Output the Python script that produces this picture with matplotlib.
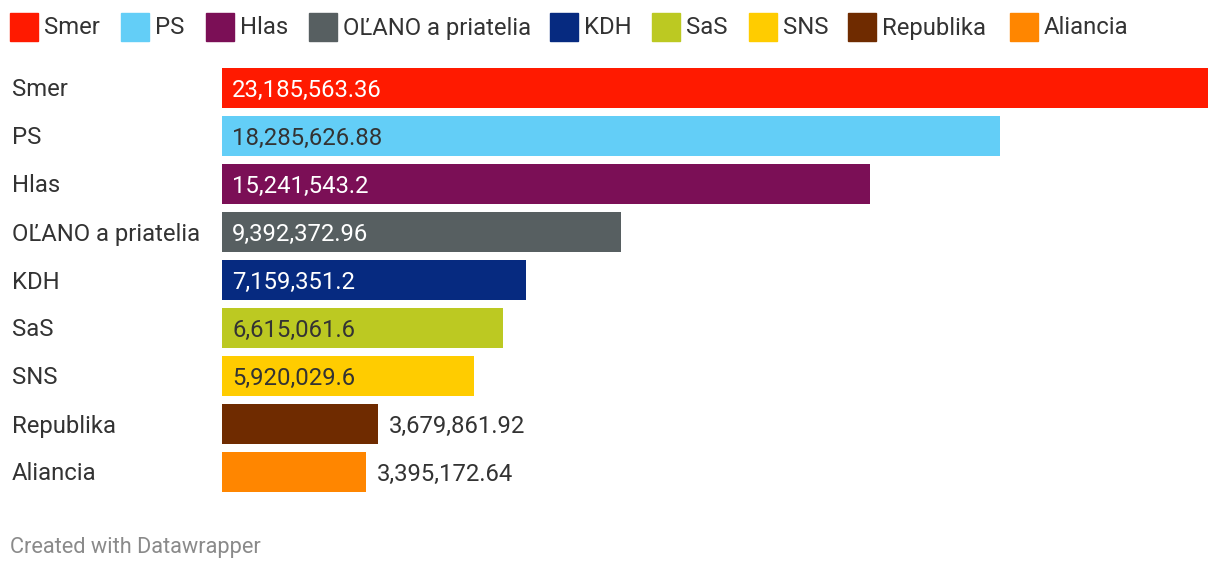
import matplotlib
matplotlib.use("Agg")
import matplotlib.pyplot as plt
from matplotlib.patches import Rectangle

plt.rcParams['font.family'] = ['Roboto', 'DejaVu Sans']

parties = ["Smer", "PS", "Hlas", "OĽANO a priatelia", "KDH", "SaS", "SNS", "Republika", "Aliancia"]
values = [23185563.36, 18285626.88, 15241543.2, 9392372.96, 7159351.2, 6615061.6, 5920029.6, 3679861.92, 3395172.64]
labels = ["23,185,563.36", "18,285,626.88", "15,241,543.2", "9,392,372.96", "7,159,351.2",
          "6,615,061.6", "5,920,029.6", "3,679,861.92", "3,395,172.64"]
colors = ["#ff1a00", "#63cef7", "#7b0f56", "#575f61", "#062a80", "#bcc922", "#ffcc00", "#6f2b00", "#ff8600"]
label_colors = ["white", "#333333", "white", "white", "white", "#333333", "#333333", "#333333", "#333333"]
inside = [True, True, True, True, True, True, True, False, False]

W, H = 1220, 570
fig = plt.figure(figsize=(W / 100, H / 100), dpi=100)

ax_left, ax_right = 222, 1208
ax_top, ax_bottom = 64, 496
ax = fig.add_axes([ax_left / W, 1 - ax_bottom / H, (ax_right - ax_left) / W, (ax_bottom - ax_top) / H])
ypos = list(range(len(parties)))
ax.barh(ypos, values, height=40 / 48, color=colors)
ax.set_xlim(0, max(values))
ax.set_ylim(len(parties) - 0.5, -0.5)
ax.axis('off')

fs = 17.2
for i, (v, lab) in enumerate(zip(values, labels)):
    yc = 87.5 + 48 * i
    fig.text(12 / W, 1 - yc / H, parties[i], ha='left', va='center_baseline', fontsize=fs, color='#333333')
    xv = 0 if inside[i] else v
    ax.annotate(lab, (xv, i), xytext=(7.2, 0.3), textcoords='offset points',
                ha='left', va='center_baseline', fontsize=fs, color=label_colors[i])

leg_sq = [10, 121, 206, 309, 550, 652, 749, 848, 1010]
for x, name, c in zip(leg_sq, parties, colors):
    fig.patches.append(Rectangle((x / W, 1 - 41 / H), 28 / W, 28 / H, transform=fig.transFigure,
                                 color=c, zorder=3))
    fig.text((x + 34) / W, 1 - 25.5 / H, name, ha='left', va='center_baseline', fontsize=fs, color='#333333')

fig.text(10 / W, 1 - 544.5 / H, "Created with Datawrapper", ha='left', va='center_baseline',
         fontsize=15.7, color='#8a8a8a')

fig.savefig("out.png", dpi=100, facecolor='white')
